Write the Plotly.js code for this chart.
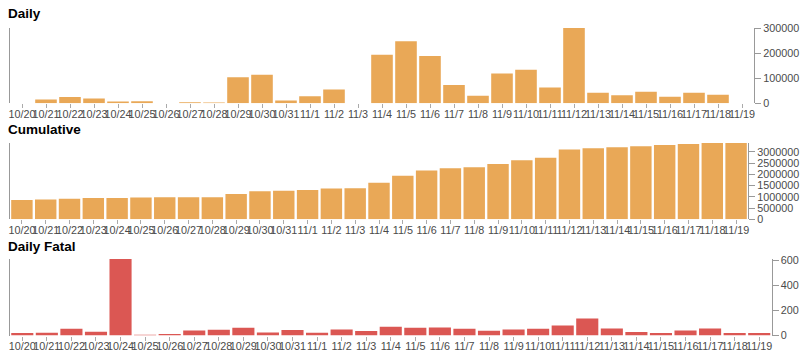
<!DOCTYPE html>
<html>
<head>
<meta charset="utf-8">
<script src="https://cdn.plot.ly/plotly-3.0.1.min.js"></script>
<style>html,body{margin:0;padding:0;background:#fff;}#chart{width:807px;height:361px;}</style>
</head>
<body>
<div id="chart"></div>
<script>
const dates = ['10/20','10/21','10/22','10/23','10/24','10/25','10/26','10/27','10/28','10/29','10/30','10/31',
  '11/1','11/2','11/3','11/4','11/5','11/6','11/7','11/8','11/9','11/10','11/11','11/12','11/13','11/14','11/15','11/16','11/17','11/18','11/19'];
const daily = [0,15000,25000,19000,7000,8000,0,4000,3000,104000,114000,11000,
  28000,55000,0,194000,248000,189000,73000,30000,119000,134000,63000,301000,42000,32000,46000,26500,42000,34000,0];
const cumulative = [854000,885000,912000,943000,945000,973000,975000,978000,980000,1120000,1250000,1266000,
  1300000,1370000,1375000,1620000,1930000,2170000,2270000,2310000,2460000,2620000,2730000,3100000,3155000,3200000,3245000,3300000,3345000,3390000,3390000];
const fatal = [19,21,53,29,610,5,11,40,45,61,24,43,
  21,48,35,69,61,64,53,37,48,53,80,136,56,27,19,40,56,19,19];
const panelTitles = ['Daily','Cumulative','Daily Fatal'];

const W = 807, H = 361;
const orange = '#E9A857', red = '#DB5753';
const font = {family: 'Liberation Sans, Arial, sans-serif', size: 10.8, color: '#4a4a4a'};

const traces = [
  {type:'bar', x:dates, y:daily, xaxis:'x', yaxis:'y', marker:{color:orange}, hoverinfo:'none'},
  {type:'bar', x:dates, y:cumulative, xaxis:'x2', yaxis:'y2', marker:{color:orange}, hoverinfo:'none'},
  {type:'bar', x:dates, y:fatal, xaxis:'x3', yaxis:'y3', marker:{color:red}, hoverinfo:'none'}
];

function xax(right, anchor){
  return {domain:[10/W, right/W], anchor:anchor, type:'category', range:[-0.5, dates.length-0.5],
    tickmode:'array', tickvals:dates, ticktext:dates, tickangle:0,
    ticks:'outside', ticklen:4, tickcolor:'#aaa', ticklabelstandoff:-3,
    showline:false, showgrid:false, zeroline:false,
    tickfont:font, fixedrange:true};
}
function yax(top, bottom, anchor, maxv, dtick){
  return {domain:[1-bottom/H, 1-top/H], anchor:anchor, side:'right', range:[0, maxv], dtick:dtick,
    tickformat:'d', ticks:'outside', ticklen:6, tickcolor:'#999', showline:true, linecolor:'#999',
    linewidth:1, mirror:true, showgrid:false, zeroline:false, tickfont:font, fixedrange:true};
}

const titleFont = {family:'Liberation Sans, Arial, sans-serif', size:13.5, color:'#000', weight:'bold'};
const titleY = [14, 129.7, 246.3];
const annotations = panelTitles.map((t,i)=>({text:'<b>'+t+'</b>', xref:'paper', yref:'paper',
  x:6/W, y:1-titleY[i]/H, xanchor:'left', yanchor:'middle', showarrow:false, font:titleFont}));

const layout = {
  width:W, height:H, margin:{l:0,r:0,t:0,b:0}, paper_bgcolor:'#fff', plot_bgcolor:'#fff',
  showlegend:false, bargap:0.1,
  xaxis: xax(754,'y'),
  yaxis: yax(28,103.3,'x', Math.max(...daily), 100000),
  xaxis2: xax(748,'y2'),
  yaxis2: yax(143,219.3,'x2', Math.max(...cumulative), 500000),
  xaxis3: xax(771.5,'y3'),
  yaxis3: yax(259,335.5,'x3', Math.max(...fatal), 200),
  annotations: annotations
};
Plotly.newPlot('chart', traces, layout, {displayModeBar:false, staticPlot:true});
</script>
</body>
</html>
